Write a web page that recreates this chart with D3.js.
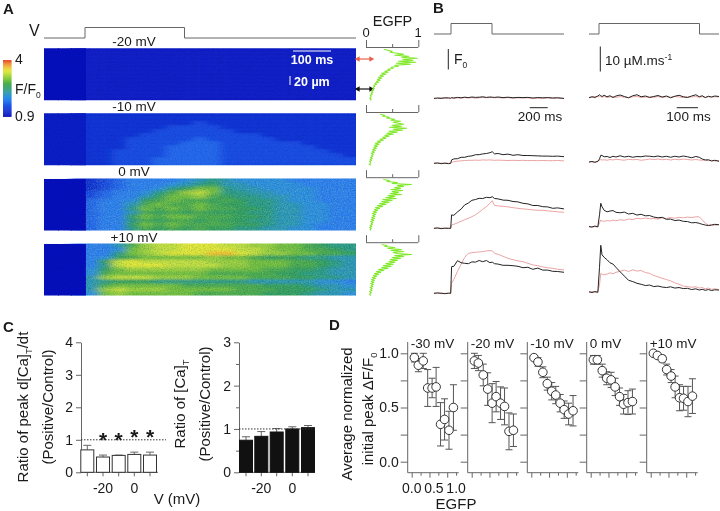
<!DOCTYPE html>
<html><head><meta charset="utf-8">
<script src="https://cdn.jsdelivr.net/npm/d3@7"></script>
<style>
html,body{margin:0;padding:0;background:#fff}
svg{filter:blur(.35px)}
text{font-family:"Liberation Sans",Arial,sans-serif;fill:#1a1a1a}
</style></head><body><div id="chart"></div>
<script>
// ---------- DATA ----------
const heatLabels = ["-20 mV","-10 mV","0 mV","+10 mV"];
const heat20 = ["00011111111111111111111","00011111111111111111111","00011111111111111111111","00011111111111111111111","00011111111111111111111","00011111111111111111111","00011111111111111111111","00011111111111111111111","00011111111111111111111","00011111111111111111111","00011111111111111111111","00011111111111111111111","00011111111111111111111"];
const heat10 = ["11122222222222222222222","11122222222222222222222","11122222222322222222222","11122222233332222222222","11122222333333222222222","11122223333333332222222","11122233333433333222222","11122233334443333332222","11122233344443333333222","11122333344443333333322","11122333344443333333332","11122333444443333333333","11122333444443333333333"];
const heat0 = ["00023455556787666655555","00023455567897766665555","00023455689bb8776666555","000345568acdb8877666555","000345579bbca9887766555","00045569abaa9a988766555","0004557abaaba9988776655","0004558bababaa998776655","0004557a9a9a99988776655","0004559babbaaa998776655","0004558a9aa9a9988776655","0004559babaaaa998776555","0004558a9a9a99887766555"];
const heatP10 = ["000557acddeeeddccbba988","000556bcddeeeeddcbbaa98","000558bcdeeeffedccbbaa9","000569abbbbbcbba9998877","00059dedddddcccbbbaa987","00058deeeddddccbbbaa987","00069bccccccbbbbaa99877","0006abbbbbbbaaaaa998877","0007cdddcccbbbbaaa99887","00078999888888877777665","0007abbbbbaaaaaa9998776","0007cdcccbbbbbaaa999877","0006bcbbbbbaaaaa9998776"];
const colorStops = ["#0510bc","#0a1ec6","#1032d4","#184ce2","#2268ec","#2a80f0","#2a90e0","#2a98b8","#2a9c88","#30a060","#48ac50","#70c040","#98d040","#c0e040","#e0e838","#f0c030","#f09030","#e85030"];

const egfp1 = [.34,.42,.5,.46,.6,.72,.55,.82,.68,.98,.7,.9,.62,.95,.58,.85,.55,.62,.48,.52,.42,.46,.36,.42,.3,.38,.27,.33,.24,.3,.22,.27,.2,.24,.17,.2,.15,.17,.14,.16,.12,.14,.11,.13,.1,.12,.08,.1,.09,.07,.1,.08];
const egfp2 = [.27,.36,.32,.45,.4,.55,.48,.66,.52,.62,.72,.5,.68,.45,.78,.52,.7,.44,.6,.4,.52,.36,.44,.32,.38,.27,.33,.22,.28,.18,.25,.16,.22,.15,.2,.13,.18,.12,.16,.1,.14,.11,.13,.09,.12,.08,.11,.07,.09,.08,.06,.09];
const egfp3 = [.33,.45,.4,.6,.5,.87,.6,.72,.55,.66,.48,.7,.5,.62,.46,.68,.42,.55,.38,.58,.32,.5,.3,.44,.26,.38,.22,.32,.18,.26,.16,.22,.14,.2,.12,.18,.13,.17,.11,.16,.1,.15,.09,.13,.1,.12,.08,.11,.07,.1,.08,.09];
const egfp4 = [.3,.4,.36,.55,.42,.68,.48,.72,.52,.6,.87,.55,.72,.5,.66,.46,.6,.44,.55,.38,.52,.33,.48,.3,.42,.24,.34,.2,.28,.16,.24,.14,.2,.12,.18,.11,.16,.1,.15,.09,.14,.1,.13,.08,.12,.09,.11,.07,.1,.08,.07,.09];

const leftT = [-190,-150,-110,-70,-30,-5,5,30,70,110,150,190,230,270,310,350,390,430,455,480,520,575,630,685,740,795,850,905,960,1015,1070,1125,1180,1250];
const lk1 = [-.02,0,-.02,.01,0,-.01,.02,0,.03,.01,.04,.02,.05,.03,.04,.06,.03,.05,.04,.03,.05,.02,.04,.01,.03,.02,.03,0,.02,.01,.02,0,.01,-.02];
const lp1 = [-.03,-.02,.01,-.01,.01,-.02,0,-.02,.01,-.01,.02,0,.02,-.01,.01,.03,.01,.02,.03,.01,.02,0,.02,-.01,.01,0,.01,-.02,0,-.02,.01,-.01,0,-.03];
const lk2 = [0,.02,-.02,.01,-.02,0,.17,.22,.23,.3,.3,.35,.37,.43,.43,.47,.49,.53,.58,.47,.49,.43,.46,.4,.43,.39,.39,.38,.37,.36,.36,.35,.36,.33];
const lp2 = [0,-.01,.01,0,.01,0,.05,.08,.11,.12,.14,.15,.15,.16,.15,.17,.16,.17,.16,.15,.16,.15,.14,.15,.14,.15,.13,.14,.13,.14,.13,.13,.14,.12];
const lk3 = [0,.02,-.02,.01,0,0,.67,.65,.82,.96,1.17,1.26,1.4,1.44,1.5,1.49,1.55,1.53,1.58,1.49,1.47,1.41,1.4,1.34,1.32,1.25,1.22,1.14,1.14,1.08,1.07,1,1.02,.97];
const lp3 = [0,0,.01,-.01,0,0,.17,.2,.27,.35,.43,.5,.58,.68,.8,.95,1.08,1.25,1.38,1.15,1.12,1.1,1.07,1.03,1,.97,.95,.92,.9,.9,.87,.85,.82,.8];
const lk4 = [0,.02,0,-.02,.01,0,1.33,1.35,1.63,1.53,1.5,1.48,1.57,1.56,1.64,1.58,1.64,1.53,1.56,1.48,1.46,1.4,1.4,1.38,1.35,1.28,1.3,1.2,1.26,1.16,1.16,1.1,1.09,1.05];
const lp4 = [0,0,.01,0,-.01,0,.5,.7,1.1,1.45,1.8,2,2.03,2.05,2.07,2.08,2.12,2.13,2.13,2,1.95,1.85,1.75,1.68,1.62,1.58,1.5,1.42,1.38,1.32,1.28,1.25,1.2,1.17];

const rightT = [-48,-34,-20,-6,2,8,14,24,38,52,66,80,100,120,140,160,180,200,220,240,260,280,300,320,340,360,380,400,420,440,460,476,490,505,520,535,550,570];
const rk1 = [-.3,.1,-.2,.4,.9,.5,.2,.7,.1,.5,-.2,.4,.8,.2,-.3,.5,.9,.1,.4,-.2,.2,.6,0,.4,-.3,.3,.7,.1,-.2,.4,.9,.1,.5,-.2,.3,0,.4,.2];
const rp1 = [-.2,0,.2,.1,.3,.1,-.1,.2,-.2,0,.1,-.2,.2,-.1,-.3,.1,.2,-.2,0,.1,-.1,.2,-.2,.1,-.1,.2,0,-.2,.1,0,.2,-.1,.1,-.2,.1,0,.1,0];
const rk2 = [0,.2,-.1,.3,1.2,2.7,2.6,2.1,2.2,1.8,2.3,2,2.5,2,2.3,1.9,2.2,2.1,2.4,2.3,2.1,2.4,2,2.3,1.9,2.3,2,2.4,2.1,1.7,2.2,1.9,1.2,.8,.9,.4,.7,.3];
const rp2 = [0,.1,-.1,.2,.6,1,.8,.9,.7,1,.8,1.1,.9,.7,1.1,.9,1,.7,.9,1.2,1,1.2,.9,1.1,.8,1.1,.9,1.2,1,.8,1,.8,.7,.8,.5,.7,.4,.5];
const rk3 = [.3,.1,.5,.2,5,9.6,8.2,6.8,6.2,6.5,6.7,6,5.8,6.1,5.3,5.6,4.9,5.2,4.6,4.7,4.1,3.8,4,3.2,3.3,2.7,2.9,2.4,2.3,1.8,1.9,1.6,1.2,.9,.7,.9,1.2,1];
const rp3 = [.2,.1,.3,.1,1.8,2.9,2.5,2.4,2.7,2.5,2.9,2.6,3,2.8,3.3,3.1,3.6,3.4,3.7,3.4,3.5,3.3,3.8,3.5,3.9,3.6,4,3.8,4.1,3.9,4.2,4.2,3,1.6,.9,1,.8,1.1];
const rk4 = [.2,-.1,.3,0,10,18.8,15,14,13,11.8,11.3,10,8.2,6.5,4.8,4.3,3.6,3.2,2.7,2.9,2.3,2.5,2.1,1.9,2.2,1.7,1.9,1.5,1.6,1.1,1.4,.9,1.2,.8,1.1,.7,1,.9];
const rp4 = [.1,.3,0,.2,3,7.6,7.2,7,7.3,7.8,7.4,8,8.4,8.9,8.3,9,8.5,8.7,7.9,7.6,6.7,6.2,5.6,5.1,4.6,3.8,3.2,2.5,2.3,2,2.2,1.7,1.9,1.4,1.7,1.2,1.4,1.1];

const voltages = [-30,-20,-10,0,10];
const rateRatio = [.69,.47,.52,.55,.53];
const rateErr = [.14,.06,.01,.07,.09];
const rateStars = [-20,-10,0,10];
const ampRatio = [.74,.83,.93,1,1.03];
const ampErr = [.08,.11,.08,.05,.05];

const egfpBins = [.06,.15,.26,.36,.46,.55,.65,.74,.84,.94];
const panelNames = ["-30 mV","-20 mV","-10 mV","0 mV","+10 mV"];
const peakM30 = [.96,.89,.93,.68,.68,.69,.345,.39,.29,.5];
const errM30 = [.04,.06,.07,.17,.09,.18,.2,.19,.175,.21];
const peakM20 = [.93,.91,.8,.67,.54,.6,.54,.51,.28,.29];
const errM20 = [.07,.07,.1,.15,.18,.14,.15,.17,.17,.15];
const peakM10 = [.96,.92,.825,.72,.65,.615,.54,.48,.44,.47];
const errM10 = [.02,.04,.05,.06,.08,.08,.08,.08,.1,.14];
const peak0 = [.94,.94,.84,.77,.755,.69,.6,.53,.545,.555];
const err0 = [.04,.04,.06,.06,.07,.08,.08,.09,.11,.115];
const peakP10 = [1,.98,.95,.85,.79,.69,.59,.585,.555,.605];
const errP10 = [.01,.02,.03,.05,.06,.1,.12,.11,.14,.16];

// ---------- SETUP ----------
const svg = d3.select("#chart").append("svg").attr("width",720).attr("height",511).style("display","block");
const defs = svg.append("defs");
const GRAY = "#666";
const txt = (x,y,s,size,anchor,weight,fill)=>svg.append("text").attr("x",x).attr("y",y).text(s)
  .style("font-size",size+"px").attr("text-anchor",anchor||"start").style("font-weight",weight||"normal").style("fill",fill||"#1a1a1a");
const vtxt = (x,y,parts,size)=>{
  const t=svg.append("text").attr("transform",`translate(${x},${y}) rotate(-90)`).attr("text-anchor","middle").style("font-size",size+"px");
  parts.forEach(p=>{ if(p.sub) {t.append("tspan").attr("dy",4).style("font-size",(size*.62)+"px").text(p.s);} else {t.append("tspan").attr("dy",p.after?-4:0).text(p.s);} });
  return t;
};
const hline=(x1,x2,y,c,w)=>svg.append("line").attr("x1",x1).attr("x2",x2).attr("y1",y).attr("y2",y).attr("stroke",c).attr("stroke-width",w||1);
const vline=(x,y1,y2,c,w)=>svg.append("line").attr("x1",x).attr("x2",x).attr("y1",y1).attr("y2",y2).attr("stroke",c).attr("stroke-width",w||1);

const blur = defs.append("filter").attr("id","soft").attr("x","-10%").attr("y","-30%").attr("width","120%").attr("height","160%");
blur.append("feGaussianBlur").attr("stdDeviation","4.5 0.8");
const makeGrain=(id,seed,matrix)=>{
  const f=defs.append("filter").attr("id",id).attr("x",0).attr("y",0).attr("width","100%").attr("height","100%");
  f.append("feTurbulence").attr("type","fractalNoise").attr("baseFrequency","0.85").attr("numOctaves",2).attr("seed",seed);
  f.append("feColorMatrix").attr("values",matrix);
};
makeGrain("grainDark",4,"0 0 0 0 0  0 0 0 0 0  0 0 0 0 0.15  2.2 0 0 0 -0.95");
makeGrain("grainLight",11,"0 0 0 0 0.85  0 0 0 0 0.95  0 0 0 0 0.25  2.2 0 0 0 -0.95");

const levelColor = d3.scaleLinear().domain(d3.range(colorStops.length)).range(colorStops).clamp(true);

// ---------- PANEL A ----------
txt(3,14,"A",15,"start","bold");
txt(29,36,"V",16);
const heatX0=44, heatX1=356, heatH=52;
const heatTops=[48.3,113.3,178.5,243.5];
const heats=[heat20,heat10,heat0,heatP10];
const labelBase=[46,111,176,241.5];

const pulseLine=(x0,a,b,x1,yb,yt)=>{const l=d3.line();
  svg.append("path").attr("d",l([[x0,yb],[a,yb],[a,yt],[b,yt],[b,yb],[x1,yb]])).attr("fill","none").attr("stroke",GRAY).attr("stroke-width",1);};
pulseLine(44,85,184.5,356,38,27.5);

heats.forEach((grid,k)=>{
  const top=heatTops[k];
  const cols=d3.range(grid[0].length), rows=d3.range(grid.length);
  const xB=d3.scaleBand().domain(cols).range([heatX0,heatX1]);
  const yB=d3.scaleBand().domain(rows).range([top,top+heatH]);
  const cells=[];
  rows.forEach(r=>cols.forEach(c=>cells.push({r,c,v:parseInt(grid[r][c],16)})));
  defs.append("clipPath").attr("id","hc"+k).append("rect").attr("x",heatX0).attr("y",top).attr("width",heatX1-heatX0).attr("height",heatH);
  const outer=svg.append("g").attr("clip-path",`url(#hc${k})`);
  outer.append("g").attr("filter","url(#soft)").selectAll("rect").data(cells.filter(c=>c.c>=3)).join("rect")
    .attr("x",c=>xB(c.c)-(c.c===3?14:0))
    .attr("width",c=>xB.bandwidth()+(c.c===3?14:0)+(c.c===cols.length-1?30:0)+.5)
    .attr("y",c=>yB(c.r)-(c.r===0?12:0))
    .attr("height",c=>yB.bandwidth()+(c.r===0?12:0)+(c.r===rows.length-1?12:0)+.5)
    .attr("fill",c=>levelColor(c.v));
  outer.append("g").attr("shape-rendering","crispEdges").selectAll("rect").data(cells.filter(c=>c.c<3)).join("rect")
    .attr("x",c=>xB(c.c)).attr("width",xB.bandwidth()+1)
    .attr("y",c=>yB(c.r)).attr("height",yB.bandwidth()+1).attr("fill",c=>levelColor(c.v));
  const over=(id,op)=>outer.append("rect").attr("x",heatX0).attr("y",top).attr("width",heatX1-heatX0).attr("height",heatH)
    .attr("filter",`url(#${id})`).attr("opacity",op);
  over("grainDark",k<2?.18:.2);
  if(k>=2){ outer.append("rect").attr("x",85).attr("y",top).attr("width",heatX1-85).attr("height",heatH)
    .attr("filter","url(#grainLight)").attr("opacity",.22); }
  txt(134,labelBase[k],heatLabels[k],13.5,"middle");
});

// colour bar
const cbN=colorStops.length*3;
const cbY=d3.scaleBand().domain(d3.range(cbN)).range([116.5,60]);
svg.append("g").selectAll("rect").data(d3.range(cbN)).join("rect")
  .attr("x",3).attr("width",8.5).attr("y",d=>cbY(d)).attr("height",cbY.bandwidth()+.4)
  .attr("fill",d=>levelColor(d/(cbN-1)*(colorStops.length-1)));
txt(15,64,"4",14);
const ff=txt(15,94,"F/F",14); ff.append("tspan").attr("dy",4).style("font-size","8.5px").text("0");
txt(15,121,"0.9",14);

// scale bars inside heat map
hline(293,331,51,"#fff",1);
txt(312,64,"100 ms",12.5,"middle","bold","#fff");
vline(290,76,85,"#fff",1);
txt(294,86,"20 µm",12.5,"start","bold","#fff");

// arrows
const arrow=(y,c)=>{ hline(358,371,y,c,1.2);
  const a=d3.symbol().type(d3.symbolTriangle).size(14);
  svg.append("path").attr("d",a()).attr("transform",`translate(358,${y}) rotate(-90)`).attr("fill",c);
  svg.append("path").attr("d",a()).attr("transform",`translate(371,${y}) rotate(90)`).attr("fill",c);};
arrow(59,"#e8604a"); arrow(89,"#111");

// EGFP profiles
txt(392.5,26,"EGFP",14.5,"middle");
txt(366,37,"0",13,"middle"); txt(418,37,"1",13,"middle");
const profX=d3.scaleLinear().domain([0,1]).range([366,418.3]);
[egfp1,egfp2,egfp3,egfp4].forEach((vals,k)=>{
  const ax=heatTops[k]-1.3;
  const g=svg.append("g").attr("transform",`translate(0,${ax})`);
  const axis=d3.axisTop(profX).tickValues([0,.5,1]).tickSize(7).tickSizeOuter(0).tickFormat("");
  g.call(axis);
  g.select(".domain").attr("stroke",GRAY).attr("d",`M${profX(0)},0.5H${profX(1)}`);
  g.selectAll(".tick line").attr("stroke",GRAY);
  g.selectAll(".tick").filter(d=>d===.5).select("line").attr("y2",-3);
  const pY=d3.scaleLinear().domain([0,vals.length-1]).range([heatTops[k]+1,heatTops[k]+heatH]);
  svg.append("path").datum(vals).attr("fill","none").attr("stroke","#82e82c").attr("stroke-width",1.1).attr("stroke-linejoin","round")
    .attr("d",d3.line().x(d=>profX(d)).y((d,i)=>pY(i)));
});

// ---------- PANEL B ----------
txt(433,13,"B",15,"start","bold");
pulseLine(434,451,492,564,34,23.5);
pulseLine(589,599,699.5,719,34,23.5);
vline(448.3,49,69.5,"#222",1);
const f0=txt(454,64,"F",14); f0.append("tspan").attr("dy",4).style("font-size","8.5px").text("0");
vline(600.3,46.5,71.5,"#222",1);
const um=txt(605,64.5,"10 µM.ms",13.5); um.append("tspan").attr("dy",-5).style("font-size","8.5px").text("-1");
hline(529.7,547.7,107.7,"#222",1); txt(540,121,"200 ms",13.5,"middle");
hline(676.7,698,107.7,"#222",1); txt(688.5,121,"100 ms",13.5,"middle");

const leftX=d3.scaleLinear().domain([-190,1250]).range([434,564]);
const rightX=d3.scaleLinear().domain([-48,570]).range([589,719]);
const leftBase=[98,163.3,228.3,293.3], rightBase=[97,162,227.3,292.3];
const leftTr=[[lp1,lk1],[lp2,lk2],[lp3,lk3],[lp4,lk4]];
const rightTr=[[rp1,rk1],[rp2,rk2],[rp3,rk3],[rp4,rk4]];
const drawTrace=(T,X,Y,vals,c)=>svg.append("path").datum(vals).attr("fill","none").attr("stroke",c).attr("stroke-width",1)
   .attr("stroke-linejoin","round").attr("d",d3.line().x((d,i)=>X(T[i])).y(d=>Y(d)));
leftTr.forEach((p,k)=>{const Y=d3.scaleLinear().domain([0,1]).range([leftBase[k],leftBase[k]-20]);
  drawTrace(leftT,leftX,Y,p[0],"#eba3a3"); drawTrace(leftT,leftX,Y,p[1],"#222");});
rightTr.forEach((p,k)=>{const Y=d3.scaleLinear().domain([0,10]).range([rightBase[k],rightBase[k]-25]);
  drawTrace(rightT,rightX,Y,p[0],"#eba3a3"); drawTrace(rightT,rightX,Y,p[1],"#222");});

// ---------- PANEL C ----------
txt(3,332,"C",15,"start","bold");
const styleAxis=g=>{g.selectAll(".domain").attr("stroke",GRAY);g.selectAll(".tick line").attr("stroke",GRAY);
  g.selectAll("text").style("font-size","14px").style("font-family",'"Liberation Sans",Arial,sans-serif').style("fill","#1a1a1a");};
function barChart(vals,errs,ax,yMax,centers,right,fill,ticks){
  const y=d3.scaleLinear().domain([0,yMax]).range([472.3,342.3]);
  const x=d3.scaleOrdinal().domain(voltages).range(centers);
  const bw=13;
  const gy=svg.append("g").attr("transform",`translate(${ax},0)`).call(d3.axisLeft(y).tickValues(ticks).tickFormat(d=>Number.isInteger(d)?d:"").tickSize(5).tickSizeOuter(0));
  styleAxis(gy);
  gy.selectAll(".tick").filter(d=>!Number.isInteger(d)).select("line").attr("x2",-3);
  const gx=svg.append("g").attr("transform",`translate(0,472.3)`);
  hline(ax,right,472.3,GRAY,1);
  gx.selectAll("line").data(voltages).join("line").attr("x1",d=>x(d)).attr("x2",d=>x(d)).attr("y1",0).attr("y2",4).attr("stroke",GRAY);
  [-20,0].forEach(v=>txt(x(v),493,String(v),14,"middle"));
  const g=svg.append("g");
  g.selectAll("line.e").data(vals).join("line").attr("class","e").attr("x1",(d,i)=>x(voltages[i])).attr("x2",(d,i)=>x(voltages[i]))
    .attr("y1",d=>y(d)).attr("y2",(d,i)=>y(d+errs[i])).attr("stroke",GRAY);
  g.selectAll("line.c").data(vals).join("line").attr("class","c").attr("x1",(d,i)=>x(voltages[i])-4).attr("x2",(d,i)=>x(voltages[i])+4)
    .attr("y1",(d,i)=>y(d+errs[i])).attr("y2",(d,i)=>y(d+errs[i])).attr("stroke",GRAY);
  g.selectAll("rect").data(vals).join("rect").attr("x",(d,i)=>x(voltages[i])-bw/2).attr("width",bw)
    .attr("y",d=>y(d)).attr("height",d=>y(0)-y(d)).attr("fill",fill).attr("stroke",fill==="#fff"?"#333":"#111").attr("stroke-width",1);
  return {x,y};
}
const c1=barChart(rateRatio,rateErr,81,4,[87.3,103,118.7,134.3,150],158,"#fff",[0,1,2,3,4]);
const c2=barChart(ampRatio,ampErr,239,3,[246,261.3,276.7,292.3,308],315,"#111",[0,.5,1,1.5,2,2.5,3]);
svg.append("line").attr("x1",81).attr("x2",166).attr("y1",c1.y(1)).attr("y2",c1.y(1)).attr("stroke","#333").attr("stroke-dasharray","1.5 1.5");
svg.append("line").attr("x1",239).attr("x2",315).attr("y1",c2.y(1)).attr("y2",c2.y(1)).attr("stroke","#333").attr("stroke-dasharray","1.5 1.5");
rateStars.forEach((v,i)=>txt(c1.x(v),[447,447,444,444][i],"*",21,"middle","bold"));
vtxt(28,407,[{s:"Ratio of peak d[Ca]"},{s:"T",sub:1},{s:"/dt",after:1}],15);
vtxt(53,407,[{s:"(Positive/Control)"}],15);
vtxt(185,404,[{s:"Ratio of [Ca]"},{s:"T",sub:1}],15);
vtxt(210,404,[{s:"(Positive/Control)"}],15);
txt(177,504,"V (mV)",15,"middle");

// ---------- PANEL D ----------
txt(329,330,"D",15,"start","bold");
const dLeft=[407.7,467.7,527.3,586.7,646.7];
const peaks=[peakM30,peakM20,peakM10,peak0,peakP10], errs=[errM30,errM20,errM10,err0,errP10];
const dY=d3.scaleLinear().domain([0,1]).range([461.7,353.3]);
peaks.forEach((vals,k)=>{
  const L=dLeft[k];
  const x=d3.scaleLinear().domain([0,1]).range([L+4,L+48.4]);
  vline(L,342,472.7,GRAY,1);
  hline(L,L+51,472.7,GRAY,1);
  const gy=svg.append("g").attr("transform",`translate(${L},0)`).call(d3.axisLeft(dY).tickValues([0,.25,.5,.75,1]).tickSize(7).tickFormat(k===0?(d=>d%.5===0?d.toFixed(1):""):""));
  gy.select(".domain").remove(); styleAxis(gy);
  if(k===0) gy.selectAll("text").attr("x",-9);
  const gx=svg.append("g").attr("transform","translate(0,472.7)").call(d3.axisBottom(x).tickValues([0,.2,.4,.6,.8,1]).tickSize(5).tickFormat(""));
  gx.select(".domain").remove(); styleAxis(gx);
  gx.selectAll(".tick").filter((d,i)=>i%2===1).select("line").attr("y2",3);
  const cap=3.5;
  const e=svg.append("g").attr("stroke","#555").attr("stroke-width",1);
  vals.forEach((v,i)=>{
    const px=x(egfpBins[i]), hi=dY(Math.min(v+errs[k][i],1.0)), lo=dY(v-errs[k][i]);
    e.append("line").attr("x1",px).attr("x2",px).attr("y1",hi).attr("y2",lo);
    e.append("line").attr("x1",px-cap).attr("x2",px+cap).attr("y1",hi).attr("y2",hi);
    e.append("line").attr("x1",px-cap).attr("x2",px+cap).attr("y1",lo).attr("y2",lo);
  });
  svg.append("g").selectAll("circle").data(vals).join("circle").attr("cx",(d,i)=>x(egfpBins[i])).attr("cy",d=>dY(d))
    .attr("r",4.3).attr("fill","#fff").attr("stroke","#333").attr("stroke-width",1);
  txt(L+3,348,panelNames[k],13.5);
  if(k===0){ [0,.5,1].forEach(v=>txt(x(v),493,v.toFixed(1),14,"middle")); }
});
txt(456,509,"EGFP",15,"middle");
vtxt(352,414,[{s:"Average normalized"}],15);
vtxt(373,409,[{s:"initial peak ΔF/F"},{s:"0",sub:1}],15);
</script></body></html>
